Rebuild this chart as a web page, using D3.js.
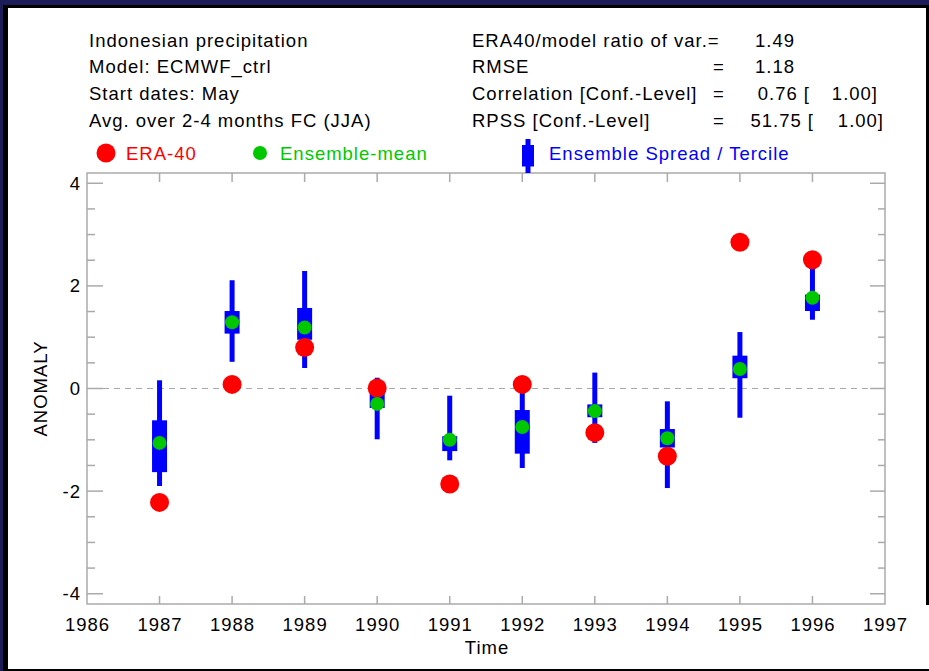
<!DOCTYPE html>
<html>
<head>
<meta charset="utf-8">
<script src="https://cdn.jsdelivr.net/npm/d3@7/dist/d3.min.js"></script>
<style>
html,body{margin:0;padding:0;background:#fff;}
svg{display:block;}
text{font-family:"Liberation Sans",Arial,Helvetica,sans-serif;font-size:18.5px;letter-spacing:1px;}
</style>
</head>
<body>
<svg id="chart" width="929" height="671"></svg>
<script>
// ---- data ----
const years      = [1987, 1988, 1989, 1990, 1991, 1992, 1993, 1994, 1995, 1996];
const era40      = [-2.22, 0.08, 0.80, 0.01, -1.86, 0.08, -0.86, -1.32, 2.85, 2.51];
const ensMean    = [-1.06, 1.29, 1.19, -0.30, -1.00, -0.75, -0.44, -0.97, 0.38, 1.77];
const spreadMin  = [-1.90, 0.52, 0.40, -0.99, -1.40, -1.55, -1.06, -1.94, -0.57, 1.34];
const spreadMax  = [0.16, 2.11, 2.29, 0.21, -0.14, 0.10, 0.31, -0.25, 1.10, 2.45];
const tercileLow = [-1.63, 1.07, 0.95, -0.38, -1.22, -1.27, -0.56, -1.15, 0.20, 1.51];
const tercileHigh= [-0.62, 1.51, 1.57, 0.02, -0.93, -0.42, -0.31, -0.79, 0.64, 1.83];

const xTicks = [1986, 1987, 1988, 1989, 1990, 1991, 1992, 1993, 1994, 1995, 1996, 1997];
const yMajorTicks = [-4, -2, 0, 2, 4];
const yMinorTicks = [-4, -3.5, -3, -2.5, -2, -1.5, -1, -0.5, 0, 0.5, 1, 1.5, 2, 2.5, 3, 3.5, 4];

const headerLeft = ["Indonesian precipitation", "Model: ECMWF_ctrl", "Start dates: May", "Avg. over 2-4 months FC (JJA)"];
const statLabels = ["ERA40/model ratio of var.=", "RMSE", "Correlation [Conf.-Level]", "RPSS [Conf.-Level]"];
const statEquals = ["", "=", "=", "="];
const statValues = ["1.49", "1.18", "0.76 [", "51.75 ["];
const statConf   = ["", "", "1.00]", "1.00]"];
const legendLabels = ["ERA-40", "Ensemble-mean", "Ensemble Spread / Tercile"];

// ---- colours ----
const RED = "#ff0000", GREEN = "#00c800", BLUE = "#0000ff", GREY = "#aaaaaa";

const svg = d3.select("#chart");

// border frame
svg.append("rect").attr("x",0).attr("y",0).attr("width",929).attr("height",671).attr("fill","#1c1c58");
svg.append("rect").attr("x",3).attr("y",5).attr("width",926).attr("height",666).attr("fill","#000");
svg.append("rect").attr("x",8).attr("y",8).attr("width",918).attr("height",661).attr("fill","#fff");
svg.append("rect").attr("x",8).attr("y",605).attr("width",921).attr("height",64).attr("fill","#fff");

// plot geometry
const L = 87, R = 885, T = 173, B = 604;
const x = d3.scaleLinear().domain([1986, 1997]).range([L, R]);
const y = d3.scaleLinear().domain([-4.2, 4.2]).range([B, T]);

// header texts
const lineY = [46.7, 73.4, 100.3, 127];
headerLeft.forEach((t,i)=> svg.append("text").attr("x",89).attr("y",lineY[i]).text(t));
statLabels.forEach((t,i)=> svg.append("text").attr("x",472).attr("y",lineY[i]).text(t));
statEquals.forEach((t,i)=> { if(t) svg.append("text").attr("x",713).attr("y",lineY[i]).text(t); });
const valEnd = [795, 795, 810, 814];
statValues.forEach((t,i)=> svg.append("text").attr("x",valEnd[i]).attr("y",lineY[i]).attr("text-anchor","end").text(t));
const confEnd = [0, 0, 878, 884];
statConf.forEach((t,i)=> { if(t) svg.append("text").attr("x",confEnd[i]).attr("y",lineY[i]).attr("text-anchor","end").text(t); });

// legend
const legY = 153;
svg.append("circle").attr("cx",106).attr("cy",legY).attr("r",9.5).attr("fill",RED);
svg.append("text").attr("x",126).attr("y",160).attr("fill",RED).text(legendLabels[0]);
svg.append("circle").attr("cx",260).attr("cy",legY).attr("r",7).attr("fill",GREEN);
svg.append("text").attr("x",280).attr("y",160).attr("fill",GREEN).text(legendLabels[1]);

// plot frame
const g = svg.append("g");
g.append("rect").attr("x",L).attr("y",T).attr("width",R-L).attr("height",B-T)
  .attr("fill","none").attr("stroke",GREY).attr("stroke-width",1.5);

// legend spread symbol (drawn after frame: it crosses the frame)
svg.append("line").attr("x1",528).attr("x2",528).attr("y1",139).attr("y2",173).attr("stroke",BLUE).attr("stroke-width",5);
svg.append("rect").attr("x",522).attr("y",145).attr("width",12).attr("height",21.5).attr("fill",BLUE);
svg.append("text").attr("x",549).attr("y",160).attr("fill",BLUE).text(legendLabels[2]);

// x ticks (top & bottom, inward)
const xInner = xTicks.filter(v=> v>1986 && v<1997);
g.selectAll(".xtb").data(xInner).join("line")
  .attr("x1",d=>x(d)).attr("x2",d=>x(d)).attr("y1",B).attr("y2",B-8)
  .attr("stroke",GREY).attr("stroke-width",1.5);
g.selectAll(".xtt").data(xInner).join("line")
  .attr("x1",d=>x(d)).attr("x2",d=>x(d)).attr("y1",T).attr("y2",T+9)
  .attr("stroke",GREY).attr("stroke-width",1.5);
// x tick labels
svg.selectAll(".xl").data(xTicks).join("text")
  .attr("x",d=>x(d)+0.5).attr("y",630.5).attr("text-anchor","middle").text(d=>d);

// y ticks
const isMajor = v => yMajorTicks.includes(v);
g.selectAll(".ytl").data(yMinorTicks).join("line")
  .attr("x1",L).attr("x2",d=> L + (isMajor(d)?16:8))
  .attr("y1",d=>y(d)).attr("y2",d=>y(d)).attr("stroke",GREY).attr("stroke-width",1.5);
g.selectAll(".ytr").data(yMinorTicks).join("line")
  .attr("x1",R).attr("x2",d=> R - (isMajor(d)?15:7))
  .attr("y1",d=>y(d)).attr("y2",d=>y(d)).attr("stroke",GREY).attr("stroke-width",1.5);
svg.selectAll(".yl").data(yMajorTicks).join("text")
  .attr("x",81).attr("y",d=>y(d)+6.5).attr("text-anchor","end").text(d=>d);

// zero dashed line
g.append("line").attr("x1",L+16).attr("x2",R).attr("y1",y(0)).attr("y2",y(0))
  .attr("stroke",GREY).attr("stroke-width",1.2).attr("stroke-dasharray","6,5");

// axis titles
svg.append("text").attr("transform",`translate(46.5,${(T+B)/2}) rotate(-90)`)
  .attr("text-anchor","middle").text("ANOMALY");
svg.append("text").attr("x",(L+R)/2+1).attr("y",653.5).attr("text-anchor","middle").text("Time");

// data marks
const idx = d3.range(years.length);
g.selectAll(".wh").data(idx).join("line")
  .attr("x1",i=>x(years[i])).attr("x2",i=>x(years[i]))
  .attr("y1",i=>y(spreadMax[i])).attr("y2",i=>y(spreadMin[i]))
  .attr("stroke",BLUE).attr("stroke-width",5);
g.selectAll(".bx").data(idx).join("rect")
  .attr("x",i=>x(years[i])-7.5).attr("width",15)
  .attr("y",i=>y(tercileHigh[i])).attr("height",i=>y(tercileLow[i])-y(tercileHigh[i]))
  .attr("fill",BLUE);
g.selectAll(".era").data(idx).join("circle")
  .attr("cx",i=>x(years[i])).attr("cy",i=>y(era40[i])).attr("r",9.5).attr("fill",RED);
g.selectAll(".ens").data(idx).join("circle")
  .attr("cx",i=>x(years[i])).attr("cy",i=>y(ensMean[i])).attr("r",7).attr("fill",GREEN);
</script>
</body>
</html>
